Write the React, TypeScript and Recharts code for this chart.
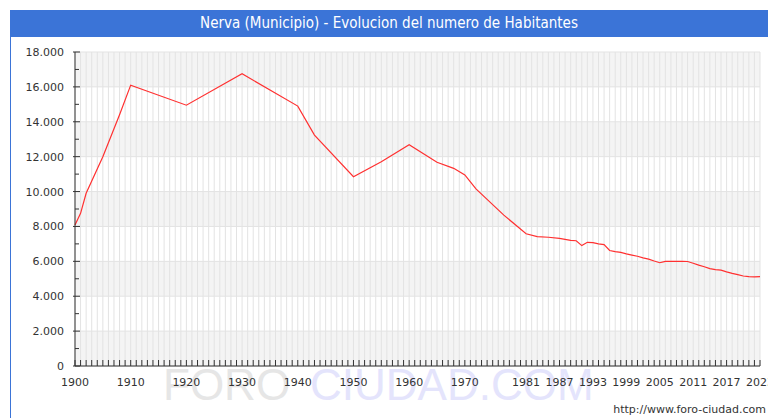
import { LineChart, Line, XAxis, YAxis, CartesianGrid } from 'recharts'

// años con dato y habitantes
const years = [
  1900, 1901, 1902, 1905, 1908, 1910, 1920, 1930, 1940, 1943, 1950, 1955, 1960, 1965,
  1968, 1970, 1972, 1977, 1981, 1983, 1985, 1987, 1989, 1990, 1991, 1992, 1993, 1994,
  1995, 1996, 1997, 1998, 1999, 2000, 2001, 2002, 2003, 2004, 2005, 2006, 2007, 2008,
  2009, 2010, 2011, 2012, 2013, 2014, 2015, 2016, 2017, 2018, 2019, 2020, 2021, 2022,
  2023,
]
const habitantes = [
  8080, 8750, 9900, 12000, 14400, 16100, 14950, 16750, 14900, 13240, 10850, 11710, 12680, 11680,
  11330, 10950, 10150, 8650, 7580, 7420, 7380, 7320, 7200, 7180, 6900, 7090, 7070, 7000,
  6960, 6620, 6560, 6510, 6430, 6360, 6290, 6200, 6130, 6020, 5920, 6000, 6000, 6000,
  6000, 5990, 5890, 5780, 5690, 5580, 5520, 5500, 5400, 5310, 5240, 5160, 5120, 5110,
  5120,
]

const labelYears = [1900, 1910, 1920, 1930, 1940, 1950, 1960, 1970, 1981, 1987, 1993, 1999, 2005, 2011, 2017, 2023]
const yMajor = [0, 2000, 4000, 6000, 8000, 10000, 12000, 14000, 16000, 18000]
const yTicks = [0, 1000, 2000, 3000, 4000, 5000, 6000, 7000, 8000, 9000, 10000, 11000, 12000, 13000, 14000, 15000, 16000, 17000, 18000]

const data = years.map((year, i) => ({ year, value: habitantes[i] }))

const allYears: number[] = []
for (let y = 1900; y <= 2023; y++) allYears.push(y)

const fmt = (v: number) => String(v).replace(/\B(?=(\d{3})+(?!\d))/g, '.')

const FONT = '"DejaVu Sans", Verdana, sans-serif'

function XTick({ x, y, payload }: any) {
  const show = labelYears.includes(payload.value)
  return (
    <g>
      <line x1={x} x2={x} y1={y} y2={y - 6} stroke="#333" />
      {show && (
        <text x={x} y={y + 20} textAnchor="middle" fontSize={11} fill="#333" fontFamily={FONT}>
          {payload.value}
        </text>
      )}
    </g>
  )
}

function YTick({ x, y, payload }: any) {
  const major = payload.value % 2000 === 0
  return (
    <g>
      <line x1={major ? x - 2 : x} x2={x + (major ? 5 : 4)} y1={y} y2={y} stroke="#333" />
      {major && (
        <text x={x - 11} y={y + 4} textAnchor="end" fontSize={11} fill="#333" fontFamily={FONT}>
          {fmt(payload.value)}
        </text>
      )}
    </g>
  )
}

export default function App() {
  return (
    <div style={{ position: 'absolute', left: 0, top: 0, width: 768, height: 418, background: '#fff', overflow: 'hidden' }}>
      {/* barra de titulo */}
      <div
        style={{
          position: 'absolute', left: 10, top: 10, width: 758, height: 27, background: '#3b74d7',
          color: '#fff', fontFamily: '"Liberation Sans Narrow", "DejaVu Sans Condensed", "Liberation Sans", sans-serif',
          fontSize: 15, lineHeight: '27px', textAlign: 'center',
        }}
      >
        Nerva (Municipio) - Evolucion del numero de Habitantes
      </div>
      <div style={{ position: 'absolute', left: 10, top: 37, width: 1, height: 381, background: '#3b74d7' }} />

      {/* marca de agua */}
      <div style={{ position: 'absolute', left: 163, top: 360, fontFamily: '"Liberation Sans", sans-serif', fontSize: 44, color: '#e6e6e6', whiteSpace: 'nowrap' }}>
        FORO
      </div>
      <div style={{ position: 'absolute', left: 310, top: 360, fontFamily: '"Liberation Sans", sans-serif', fontSize: 44, color: '#e4e4fc', whiteSpace: 'nowrap' }}>
        CIUDAD.COM
      </div>

      <div style={{ position: 'absolute', left: 0, top: 0 }}>
        <LineChart width={768} height={418} data={data} margin={{ top: 52, right: 8, bottom: 22, left: 0 }}>
          <CartesianGrid
            stroke="#e3e3e3"
            horizontalFill={['#f4f4f4', '#ffffff']}
            fillOpacity={1}
            horizontalValues={yMajor}
          />
          <XAxis
            type="number"
            dataKey="year"
            domain={[1900, 2023]}
            ticks={allYears}
            interval={0}
            tickSize={0}
            tickMargin={0}
            tickLine={false}
            axisLine={{ stroke: '#333' }}
            height={30}
            tick={(p: any) => <XTick {...p} />}
          />
          <YAxis
            type="number"
            domain={[0, 18000]}
            ticks={yTicks}
            interval={0}
            tickSize={0}
            tickMargin={0}
            tickLine={false}
            axisLine={{ stroke: '#333' }}
            width={75}
            tick={(p: any) => <YTick {...p} />}
          />
          <Line
            type="linear"
            dataKey="value"
            stroke="#ff3030"
            strokeWidth={1.2}
            dot={false}
            isAnimationActive={false}
          />
        </LineChart>
      </div>

      <div style={{ position: 'absolute', right: 2, top: 403, fontFamily: FONT, fontSize: 11, color: '#333', whiteSpace: 'nowrap' }}>
        http://www.foro-ciudad.com
      </div>
    </div>
  )
}
